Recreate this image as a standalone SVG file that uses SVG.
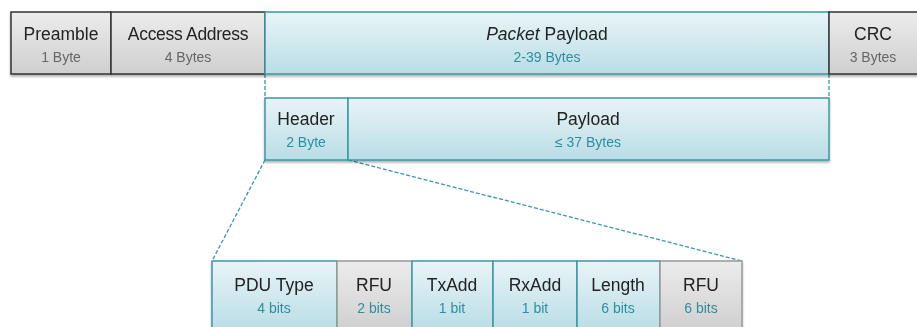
<svg xmlns="http://www.w3.org/2000/svg" width="917" height="327" viewBox="0 0 917 327">
<defs>
<linearGradient id="gGray" x1="0" y1="0" x2="0" y2="1"><stop offset="0" stop-color="#ececec"/><stop offset="1" stop-color="#cfcfcf"/></linearGradient>
<linearGradient id="gBlue" x1="0" y1="0" x2="0" y2="1"><stop offset="0" stop-color="#e9f4f7"/><stop offset="1" stop-color="#b9dde6"/></linearGradient>
<filter id="sh" x="-5%" y="-5%" width="110%" height="130%"><feDropShadow dx="0" dy="2" stdDeviation="1.2" flood-color="#000" flood-opacity="0.3"/></filter>
<style>
.gray{fill:url(#gGray);stroke:#333;stroke-width:1.5}
.blue{fill:url(#gBlue);stroke:#3a98a6;stroke-width:1.5}
.gray2{fill:url(#gGray);stroke:#999;stroke-width:1.5}
.t{font-family:"Liberation Sans",Arial,sans-serif;font-size:17.5px;fill:#222;text-anchor:middle}
.s{font-family:"Liberation Sans",Arial,sans-serif;font-size:14px;fill:#666;text-anchor:middle}
.sb{font-family:"Liberation Sans",Arial,sans-serif;font-size:14px;fill:#2f8e9e;text-anchor:middle}
.dash{stroke:#3a98a6;stroke-width:1.3;stroke-dasharray:4 2;fill:none}
</style>
</defs>
<g id="connectors">
<line class="dash" x1="265" y1="74" x2="265" y2="98"/>
<line class="dash" x1="829" y1="74" x2="829" y2="98"/>
<line class="dash" x1="265" y1="160" x2="212" y2="261"/>
<line class="dash" x1="348" y1="160" x2="742" y2="261"/>
</g>
<g id="top-row" filter="url(#sh)">
<g id="preamble"><rect class="gray" x="11" y="12" width="100" height="62"/><text class="t" x="61" y="40">Preamble</text><text class="s" x="61" y="62">1 Byte</text></g>
<g id="access"><rect class="gray" x="111" y="12" width="154" height="62"/><text class="t" x="188" y="40" letter-spacing="-0.3">Access Address</text><text class="s" x="188" y="62">4 Bytes</text></g>
<g id="packet"><rect class="blue" x="265" y="12" width="564" height="62"/><text class="t" x="547" y="40"><tspan font-style="italic">Packet</tspan> Payload</text><text class="sb" x="547" y="62">2-39 Bytes</text></g>
<g id="crc"><rect class="gray" x="829" y="12" width="92" height="62"/><text class="t" x="873" y="40">CRC</text><text class="s" x="873" y="62">3 Bytes</text></g>
</g>
<g id="mid-row" filter="url(#sh)">
<g id="header"><rect class="blue" x="265" y="98" width="83" height="62"/><text class="t" x="306" y="125">Header</text><text class="sb" x="306" y="147">2 Byte</text></g>
<g id="payload"><rect class="blue" x="348" y="98" width="481" height="62"/><text class="t" x="588" y="125">Payload</text><text class="sb" x="588" y="147">≤ 37 Bytes</text></g>
</g>
<g id="bottom-row" filter="url(#sh)">
<g id="pdutype"><rect class="blue" x="212" y="261" width="125" height="70"/><text class="t" x="274" y="291">PDU Type</text><text class="sb" x="274" y="313">4 bits</text></g>
<g id="rfu1"><rect class="gray2" x="337" y="261" width="75" height="70"/><text class="t" x="374" y="291">RFU</text><text class="sb" x="374" y="313">2 bits</text></g>
<g id="txadd"><rect class="blue" x="412" y="261" width="81" height="70"/><text class="t" x="452" y="291">TxAdd</text><text class="sb" x="452" y="313">1 bit</text></g>
<g id="rxadd"><rect class="blue" x="493" y="261" width="84" height="70"/><text class="t" x="535" y="291">RxAdd</text><text class="sb" x="535" y="313">1 bit</text></g>
<g id="length"><rect class="blue" x="577" y="261" width="83" height="70"/><text class="t" x="618" y="291">Length</text><text class="sb" x="618" y="313">6 bits</text></g>
<g id="rfu2"><rect class="gray2" x="660" y="261" width="82" height="70"/><text class="t" x="701" y="291">RFU</text><text class="sb" x="701" y="313">6 bits</text></g>
</g>
</svg>
